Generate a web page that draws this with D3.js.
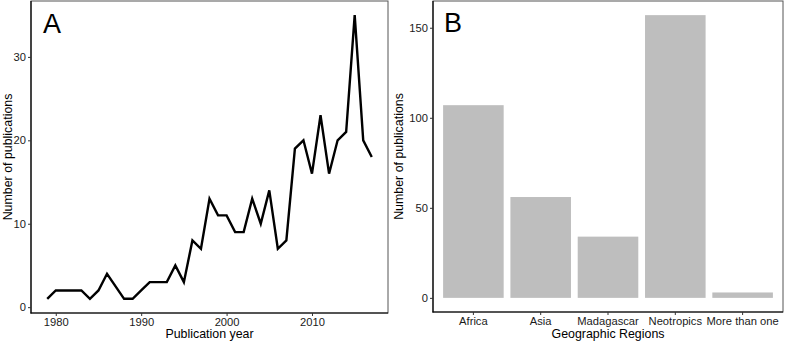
<!DOCTYPE html>
<html>
<head>
<meta charset="utf-8">
<script src="https://cdn.jsdelivr.net/npm/d3@7"></script>
<style>
  body { margin: 0; background: #fff; }
  svg { display: block; }
  svg text { font-family: "Liberation Sans", Arial, sans-serif; }
</style>
</head>
<body>
<div id="chart"></div>
<script>
// Panel A: publications per year (1987 has no record, the line joins 1986 to 1988)
const years = [1979, 1980, 1981, 1982, 1983, 1984, 1985, 1986, 1988, 1989,
  1990, 1991, 1992, 1993, 1994, 1995, 1996, 1997, 1998, 1999,
  2000, 2001, 2002, 2003, 2004, 2005, 2006, 2007, 2008, 2009,
  2010, 2011, 2012, 2013, 2014, 2015, 2016, 2017];
const yearCounts = [1, 2, 2, 2, 2, 1, 2, 4, 1, 1,
  2, 3, 3, 3, 5, 3, 8, 7, 13, 11,
  11, 9, 9, 13, 10, 14, 7, 8, 19, 20,
  16, 23, 16, 20, 21, 35, 20, 18];
const yearTicks = [1980, 1990, 2000, 2010];
const countTicksA = [0, 10, 20, 30];

// Panel B: publications per region
const regions = ["Africa", "Asia", "Madagascar", "Neotropics", "More than one"];
const regionCounts = [107, 56, 34, 157, 3];
const countTicksB = [0, 50, 100, 150];

const width = 785, height = 341;
const svg = d3.select("#chart").append("svg")
  .attr("width", width)
  .attr("height", height)
  .attr("viewBox", [0, 0, width, height]);

// ggplot-style 5% expansion of a continuous domain
function expand(lo, hi) {
  const pad = (hi - lo) * 0.05;
  return [lo - pad, hi + pad];
}

function frame(g, x0, x1, y0, y1) {
  // thin grey panel border, then black axis lines on left and bottom
  g.append("rect")
    .attr("x", x0).attr("y", y0)
    .attr("width", x1 - x0).attr("height", y1 - y0)
    .attr("fill", "none")
    .attr("stroke", "#555")
    .attr("stroke-width", 1);
  g.append("line")
    .attr("x1", x0).attr("x2", x0).attr("y1", y0).attr("y2", y1 + 0.5)
    .attr("stroke", "#000").attr("stroke-width", 1.2);
  g.append("line")
    .attr("x1", x0 - 0.5).attr("x2", x1).attr("y1", y1).attr("y2", y1)
    .attr("stroke", "#000").attr("stroke-width", 1.2);
}

function styleAxis(g) {
  g.attr("font-family", null).attr("font-size", null);
  g.select(".domain").remove();
  g.selectAll(".tick line").attr("stroke", "#333");
  g.selectAll(".tick text")
    .attr("fill", "#1a1a1a")
    .style("font-family", "'Liberation Sans', Arial, sans-serif")
    .style("font-size", "11.2px");
}

// ---------- Panel A ----------
const aL = 31, aR = 388, aT = 1, aB = 313;
const xA = d3.scaleLinear(expand(d3.min(years), d3.max(years)), [aL, aR]);
const yA = d3.scaleLinear(expand(d3.min(yearCounts), d3.max(yearCounts)), [aB, aT]);

const gA = svg.append("g");

gA.append("path")
  .datum(years.map((d, i) => [d, yearCounts[i]]))
  .attr("fill", "none")
  .attr("stroke", "#000")
  .attr("stroke-width", 2.4)
  .attr("stroke-linejoin", "miter")
  .attr("d", d3.line().x(d => xA(d[0])).y(d => yA(d[1])));

frame(gA, aL, aR, aT, aB);

gA.append("g")
  .attr("transform", `translate(0,${aB})`)
  .call(d3.axisBottom(xA).tickValues(yearTicks).tickFormat(d3.format("d")).tickSize(3).tickPadding(2))
  .call(styleAxis);

gA.append("g")
  .attr("transform", `translate(${aL},0)`)
  .call(d3.axisLeft(yA).tickValues(countTicksA).tickSize(3).tickPadding(2))
  .call(styleAxis);

gA.append("text")
  .attr("x", 43).attr("y", 32.5)
  .style("font-size", "27px")
  .attr("fill", "#000")
  .text("A");

gA.append("text")
  .attr("x", (aL + aR) / 2).attr("y", 338)
  .attr("text-anchor", "middle")
  .style("font-size", "12.4px")
  .text("Publication year");

gA.append("text")
  .attr("transform", `translate(12,${(aT + aB) / 2}) rotate(-90)`)
  .attr("text-anchor", "middle")
  .style("font-size", "12.4px")
  .text("Number of publications");

// ---------- Panel B ----------
const bL = 433, bR = 783, bT = 1, bB = 312;
const xB = d3.scaleBand(regions, [bL, bR]).paddingInner(0.1).paddingOuter(0.15);
const yB = d3.scaleLinear(expand(0, d3.max(regionCounts)), [bB, bT]);

const gB = svg.append("g");

gB.append("g")
  .selectAll("rect")
  .data(regions)
  .join("rect")
  .attr("x", d => xB(d))
  .attr("width", xB.bandwidth())
  .attr("y", (d, i) => yB(regionCounts[i]))
  .attr("height", (d, i) => yB(0) - yB(regionCounts[i]))
  .attr("fill", "#bebebe");

frame(gB, bL, bR, bT, bB);

gB.append("g")
  .attr("transform", `translate(0,${bB})`)
  .call(d3.axisBottom(xB).tickSize(3).tickPadding(2))
  .call(styleAxis);

gB.append("g")
  .attr("transform", `translate(${bL},0)`)
  .call(d3.axisLeft(yB).tickValues(countTicksB).tickSize(3).tickPadding(2))
  .call(styleAxis);

gB.append("text")
  .attr("x", 444).attr("y", 32)
  .style("font-size", "27px")
  .attr("fill", "#000")
  .text("B");

gB.append("text")
  .attr("x", (bL + bR) / 2).attr("y", 338)
  .attr("text-anchor", "middle")
  .style("font-size", "12.4px")
  .text("Geographic Regions");

gB.append("text")
  .attr("transform", `translate(403,${(bT + bB) / 2}) rotate(-90)`)
  .attr("text-anchor", "middle")
  .style("font-size", "12.4px")
  .text("Number of publications");
</script>
</body>
</html>
